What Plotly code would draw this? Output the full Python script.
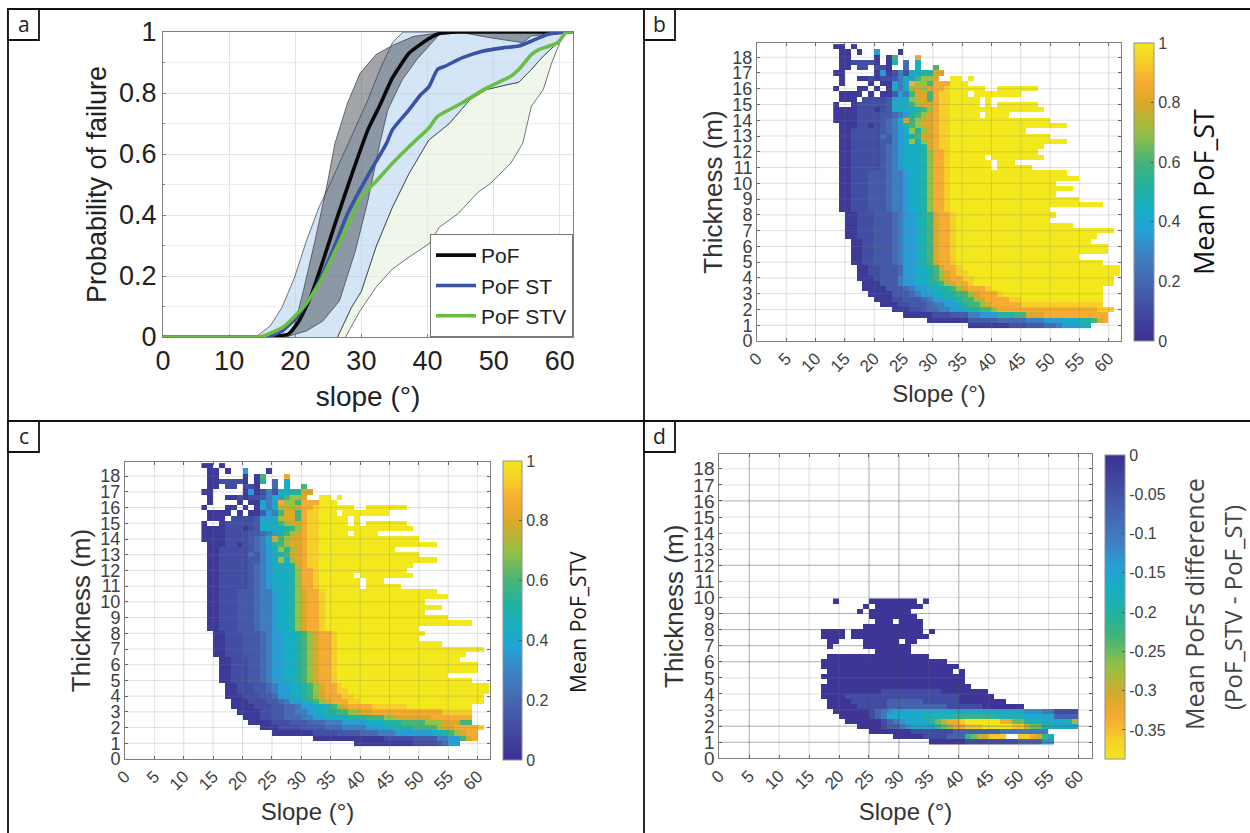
import re
import plotly.graph_objects as go

W, H = 1250, 833

# ---------- panel a: curves ----------
POF_X = [0, 15, 17.4, 19, 20.5, 22.3, 24.2, 26, 28.5, 31, 32.8, 34.7, 37.2, 39.6, 41.8, 44.6, 50, 62]
POF_Y = [0, 0, 0.003, 0.01, 0.05, 0.13, 0.25, 0.37, 0.53, 0.68, 0.76, 0.85, 0.93, 0.97, 0.995, 1, 1, 1]
ST_X = [0, 15, 16, 18, 20, 22, 24, 26, 27.9, 31, 33.8, 34.7, 37.2, 39, 40.2, 41.5, 42.7, 45.2, 48.3, 51.4, 53.8, 55.7, 58.1, 60, 62]
ST_Y = [0, 0, 0.002, 0.02, 0.06, 0.12, 0.2, 0.3, 0.404, 0.53, 0.635, 0.68, 0.745, 0.795, 0.82, 0.877, 0.888, 0.915, 0.937, 0.948, 0.954, 0.97, 0.992, 0.998, 1]
STV_X = [0, 14, 15, 16, 18, 20, 22, 24, 26, 28, 30, 32.2, 34.7, 37.2, 40.2, 41.5, 45.2, 48.9, 52.6, 53.8, 55.7, 56.9, 59.7, 60.9, 62]
STV_Y = [0, 0, 0.002, 0.01, 0.03, 0.07, 0.12, 0.19, 0.28, 0.37, 0.46, 0.51, 0.57, 0.624, 0.685, 0.723, 0.767, 0.816, 0.855, 0.877, 0.926, 0.943, 0.965, 0.998, 1]

POF_UP_X = [18.6, 19.9, 21.1, 23, 24.8, 26, 27.9, 29.8, 32.2, 34.7, 37.8, 40.9, 44, 62]
POF_UP_Y = [0, 0.04, 0.14, 0.317, 0.498, 0.635, 0.767, 0.865, 0.926, 0.956, 0.985, 0.995, 1, 1]
POF_LO_X = [18.6, 21.7, 24.2, 26.7, 29.1, 31, 32.8, 34, 36.2, 38.4, 40.2, 41.8, 45.2, 49.5, 54.4, 55.7, 62]
POF_LO_Y = [0, 0.02, 0.053, 0.119, 0.283, 0.448, 0.635, 0.745, 0.844, 0.91, 0.954, 0.992, 0.998, 0.981, 0.965, 0.987, 1]
ST_UP_X = [14, 16.2, 18, 19.9, 21.7, 23.6, 24.8, 26.7, 28.5, 31, 32.8, 34.7, 36.3, 62]
ST_UP_Y = [0, 0.036, 0.097, 0.196, 0.316, 0.426, 0.48, 0.57, 0.658, 0.778, 0.877, 0.965, 1, 1]
ST_LO_X = [26.4, 28.5, 30, 32.2, 34.7, 37.2, 40.2, 41.5, 43.3, 46.4, 48.9, 52, 53.8, 55.7, 57.5, 59.7, 61, 62]
ST_LO_Y = [0, 0.097, 0.15, 0.295, 0.426, 0.536, 0.646, 0.668, 0.7, 0.778, 0.811, 0.827, 0.835, 0.877, 0.921, 0.965, 0.998, 1]
STV_LO_X = [27.6, 29.8, 32.2, 34.7, 37.2, 40.2, 41.8, 44.6, 47.7, 49.5, 52.6, 54.4, 55.7, 57.5, 58.8, 60, 61, 62]
STV_LO_Y = [0, 0.086, 0.163, 0.223, 0.262, 0.305, 0.36, 0.404, 0.476, 0.503, 0.57, 0.635, 0.756, 0.811, 0.9, 0.965, 1, 1]

# ---------- heat maps: cells per thickness row, top row first ----------
# run-length text: count + level letter, "." = empty cell; the first column is the 13-14 degree bin
LEVELS = dict(a=.04, b=.11, c=.15, d=.21, e=.28, f=.36, g=.44, h=.52, i=.6, j=.7, k=.8, l=.87, m=.94, n=1.0)
DIFF_LEVELS = dict(a=-.01, b=-.04, c=-.07, d=-.1, e=-.13, f=-.16, g=-.19, h=-.22, i=-.25, j=-.28, k=-.3, l=-.33, m=-.36, n=-.385)

ST_ROWS = [
    "2a.a", ".2a.a2.f3.a", ".2a4.a.ai3.l", ".2a4ba.ah.d.g", ".2a.2b.2ba2.d.g2.i",
    "2a5.afabeb2g2h2k", ".a2.2ababbcegfijjk2.2n.n", ".a4.a.2afefljji3l3n",
    "a3.2a.a.agegjkjkllm6n2.7n", ".4a.a.2acfeikkilmm3n.8n", ".3a.4bcffgjkkilmm5n.n",
    "a2.a5bc3gijkklmm5n.n.7n", "4a3babc4ghijlmm16n", "4a4b2cdefhijklmm5n.4n",
    "4a4bcdegkijkklmm17n", ".3a2babcdefhijkklmm20n", ".2a5bcdefgjhjklmm13n",
    ".2a5bdcefghikklmm17n", ".2a5bccefgjgjklmm20n", ".2a5bcdefggghklmm16n",
    ".2a5bcdefggghjllm15n", ".2a5bcdefggghjllm6n.9n", ".2a5bcdefggghjllm7n.3n",
    ".2a5bcdefggghjllm7n.6n",
    ".2a3b3cdeefgghjllm20n", ".2a3b3cdeefgghjllm22n", ".2a3b3cdeefgghjllm18n",
    ".2a3b3cdeefgghjllm21n", ".2a3b3cdeefgghjllm18n", ".2a3b3cdeefgghjllm22n",
    ".2a3b3cdeefgghjllm26n", ".2a3b3cdeefgghjllm17n",
    "2.2a3b3cde2fghik2lm17n", "2.2a3b3cde2fghik2lm16n", "2.2a3b3cde2fghik2lm20n",
    "2.2a3b3cde2fghik2lm27n", "2.2a3b3cde2fghik2lm24n",
    "3.2a2b3cde2fghik2lm23n", "3.2a2b3cde2fghik2lm26n", "3.2a2b3cde2fghik2lm26n",
    "3.2a2b3cde2fghik2lm21n", "3.2a2b3cde2fghik2lm25n",
    "4.2a2b3cd2f2ghik2lm27n", "4.2a2b3cd2f2ghijkl2m26n", "4.3ab3ce2f2ghijk2l2m24n",
    "5.3a3ce2f2g2hijk2lm24n", "5.4a3cde2f2g2hijk3lm19n", "6.4a3cde2f2g2h2ijk3lm17n",
    "7.3a2b3cde2f2gh2ijk4l2m14n", "8.3a2b3cd2e2fgh2ijk5l14m", "10.3a2bc2d2e2fg2h2ij17l3m",
    "12.5a3b3c2e3f3h2i3k11l", "16.7a5c5d3e3f3g2hikl", "23.7a3b3c2de3f2g",
]

STV_ROWS = ST_ROWS[:24] + [
    ".2a3b3cdeefgghjkllm19n", ".2a3b3cdeefgghjkllm21n", ".2a3b3cdeefgghjkllm17n",
    ".2a3b3cdeefgghjkllm20n", ".2a3b3cdeefgghjkllm17n", ".2a3b3cdeefgghjkllm21n",
    ".2a3b3cdeefgghjkllm25n", ".2a3b3cdeefgghjkllm16n",
    "2.2a3b3cde2f2ghijk2lm15n", "2.2a3b3cde2f2ghijk2lm14n", "2.2a3b3cde2f2ghijk2lm18n",
    "2.2a3b3cde2f2ghijk2lm25n", "2.2a3b3cde2f2ghijk2lm22n",
    "3.2a3b2cde2f2ghijk2lm21n", "3.2a3b2cde2f2ghijk2lm24n", "3.2a3b2cde2f2ghijk2lm24n",
    "3.2a3b2cde2f2ghijk2lm19n", "3.2a3b2cde2f2ghijk2lm23n",
    "4.2a3b2cde2f2ghijk2lm25n", "4.2a3b2cde2f2ghijk2l2m24n", "4.3a3b2cd2f2ghijk3l2m22n",
    "5.3a3b2cde2fghijk3l2m21n", "5.4a3b2c2de2f2ghijk4l6m11n", "6.4a2b2c2d2ef2g2h2i2j2k12l5m",
    "7.3a2b2c3d2e2f4g3h3i2j6k7l", "8.4a3b3c3d3e4f3g3h4i3j3k2i", "10.3a4b4c3d4e3f2g3h4ij2k4lm",
    "12.7a4b4c3d3e6f2ghijk2l", "19.12a5b4c2e2fikl", "26.10a4bcd2f",
]

DIFF_ROWS = [
    "6.a5.8a.a", "11.a.8a", "10.a.7a", "12.8a", "13.3a.4a", "11.10a", "4.4a.12a.a", "4.4a.13a",
    "5.2a4.6a.2a", "5.a5.8a", "13.6a", "5.17a", "4.21a", "4.23a", "5.21a.a", "4.24a", "5.23a", "4.25a",
    "4.10a10b8a", "4.4a19b6a", "5.4a6b6c6b8a", "5.5a5b10c6b7a", "6.6abcde22f3e2d4b",
    "7.5abcd6f5g7h5g5f4c", "8.6abcde4fhik2lm6n2l2i3g4fgj", "10.4ab2cde4fhij2l3m5n2mk2i2g4f",
    "12.7a7b8c8d", "16.5a4b3chi2k3m2.2mlkhf", "22.6a9b4c2e",
]

SLOPE_TICKS = list(range(0, 61, 5))
THICK_TICKS = list(range(0, 19))
A_X_TICKS = [0, 10, 20, 30, 40, 50, 60]
A_Y_TICKS = [0, 0.2, 0.4, 0.6, 0.8, 1]
A_Y_LABELS = ["0", "0.2", "0.4", "0.6", "0.8", "1"]
CB_TICKS = [0, 0.2, 0.4, 0.6, 0.8, 1]
CB_LABELS = ["0", "0.2", "0.4", "0.6", "0.8", "1"]
DIFF_TICKS = [0, -0.05, -0.1, -0.15, -0.2, -0.25, -0.3, -0.35]
DIFF_LABELS = ["0", "-0.05", "-0.1", "-0.15", "-0.2", "-0.25", "-0.3", "-0.35"]
D_STRONG_SLOPES = [5, 25, 30, 40, 60]
D_STRONG_THICK = [1, 2, 6, 7, 8, 9, 12, 16]

PARULA = [
    [0, "#3b2f94"], [.1, "#424ba2"], [.2, "#4667b0"], [.3, "#3c84c4"], [.37, "#25a0d8"],
    [.44, "#17aec4"], [.52, "#22b2a0"], [.6, "#45b478"], [.7, "#97c044"], [.8, "#dca829"],
    [.87, "#f6ac32"], [.94, "#f6d028"], [1, "#f2e81c"],
]

FONT = "Liberation Sans"
TITLE_FONT = "Open Sans"
TICK_COLOR = "#404040"


def px_dom_x(a, b):
    return [a / W, b / W]


def px_dom_y(top, bottom):
    return [1 - bottom / H, 1 - top / H]


def decode(rows, levels):
    grid = []
    for row in rows:
        cells = []
        for count, ch in re.findall(r"(\d*)([a-n.])", row):
            cells += [None if ch == "." else levels[ch]] * int(count or 1)
        grid.append((cells + [None] * 49)[:49])
    return grid[::-1]


def heat(rows, levels, row_h, xa, ya, zmin, zmax, reverse, cb):
    grid = decode(rows, levels)
    return go.Heatmap(
        z=grid,
        x=[13.5 + i for i in range(49)],
        y=[0.83 + row_h * (i + 0.5) for i in range(len(grid))],
        xaxis=xa, yaxis=ya, zmin=zmin, zmax=zmax, colorscale=PARULA, reversescale=reverse,
        hoverongaps=False, colorbar=cb,
    )


def colorbar(x0, x1, top, bottom, vals, labels):
    return dict(
        x=x0 / W, xanchor="left", xpad=0, ypad=0, thickness=x1 - x0, thicknessmode="pixels",
        y=1 - top / H, yanchor="top", len=(bottom - top) / H, lenmode="fraction",
        tickvals=vals, ticktext=labels, ticks="inside", ticklen=3, tickcolor="#555555",
        tickfont=dict(family=FONT, size=16, color=TICK_COLOR),
        outlinecolor="#909090", outlinewidth=1,
    )


fig = go.Figure()

# panel a bands
for up_x, up_y, lo_x, lo_y, fill in [
    (ST_LO_X, ST_LO_Y, STV_LO_X, STV_LO_Y, "rgba(226,240,217,0.55)"),
    (ST_UP_X, ST_UP_Y, ST_LO_X, ST_LO_Y, "rgba(176,208,238,0.55)"),
    (POF_UP_X, POF_UP_Y, POF_LO_X, POF_LO_Y, "rgba(55,60,65,0.46)"),
]:
    fig.add_trace(go.Scatter(
        x=up_x + lo_x[::-1], y=up_y + lo_y[::-1], mode="lines", fill="toself", fillcolor=fill,
        line=dict(color="#3a3a4a", width=0.7), showlegend=False, hoverinfo="skip",
    ))
for xs, ys, name, col in [
    (POF_X, POF_Y, "PoF", "#0a0a0a"),
    (ST_X, ST_Y, "PoF ST", "#3a53a4"),
    (STV_X, STV_Y, "PoF STV", "#6abd45"),
]:
    fig.add_trace(go.Scatter(x=xs, y=ys, mode="lines", name=name,
                             line=dict(color=col, width=3.6, shape="spline", smoothing=0.5)))

fig.add_trace(heat(ST_ROWS, LEVELS, 1 / 3, "x2", "y2", 0, 1, False,
                   colorbar(1134, 1154, 43, 341, CB_TICKS, CB_LABELS)))
fig.add_trace(heat(STV_ROWS, LEVELS, 1 / 3, "x3", "y3", 0, 1, False,
                   colorbar(503, 522, 461, 760, CB_TICKS, CB_LABELS)))
fig.add_trace(heat(DIFF_ROWS, DIFF_LEVELS, 0.314, "x4", "y4", -0.387, 0, True,
                   colorbar(1105, 1125, 455, 759, DIFF_TICKS, DIFF_LABELS)))

layout = dict(
    width=W, height=H, margin=dict(l=0, r=0, t=0, b=0), autosize=False,
    paper_bgcolor="white", plot_bgcolor="white", font=dict(family=FONT, color="#222222"),
    legend=dict(
        x=573 / W, xanchor="right", y=1 - 337 / H, yanchor="bottom", bgcolor="white",
        bordercolor="#777777", borderwidth=1, font=dict(size=21, color="#222222"),
        itemwidth=40, tracegroupgap=0,
    ),
)

# panel a axes
layout["xaxis"] = dict(
    domain=px_dom_x(163, 573), range=[0, 62], tickvals=A_X_TICKS, showgrid=True, gridcolor="#e4e4e4",
    zeroline=False, showline=True, linecolor="#808080", mirror=True, ticks="inside", ticklen=3,
    tickcolor="#808080", tickfont=dict(size=27, color="#222222"),
    title=dict(text="slope (°)", font=dict(size=28), standoff=10), automargin=False,
)
layout["yaxis"] = dict(
    domain=px_dom_y(32, 337), range=[0, 1], tickvals=A_Y_TICKS, ticktext=A_Y_LABELS, showgrid=True,
    gridcolor="#e4e4e4", zeroline=False, showline=True, linecolor="#808080", mirror=True,
    ticks="inside", ticklen=3, tickcolor="#808080", tickfont=dict(size=27, color="#222222"),
    minor=dict(dtick=0.1, showgrid=True, gridcolor="#ededed", ticks="inside", ticklen=2),
    title=dict(text="Probability of failure", font=dict(size=27), standoff=4), automargin=False,
)

shapes = []
PANELS = [
    ("2", (757, 1121), (43, 341), 62.1),
    ("3", (125, 490), (462, 759), 62.1),
    ("4", (719.3, 1091.7), (454.3, 758.3), 62.2),
]
for sfx, (x0, x1), (y0, y1), xmax in PANELS:
    ticksize = 18 if sfx != "4" else 19
    layout["xaxis" + sfx] = dict(
        domain=px_dom_x(x0, x1), range=[0, xmax], anchor="y" + sfx, tickvals=SLOPE_TICKS,
        tickangle=-45, showgrid=False, zeroline=False, showline=True, linecolor="#808080",
        mirror="ticks", ticks="inside", ticklen=3, tickcolor="#606060",
        tickfont=dict(size=17, color=TICK_COLOR),
        title=dict(text="Slope (°)", font=dict(size=24, color="#333333"), standoff=10), automargin=False,
    )
    layout["yaxis" + sfx] = dict(
        domain=px_dom_y(y0, y1), range=[0, 18.9], anchor="x" + sfx, tickvals=THICK_TICKS,
        showgrid=False, zeroline=False, showline=True, linecolor="#808080", mirror="ticks",
        ticks="inside", ticklen=3, tickcolor="#606060", tickfont=dict(size=ticksize, color=TICK_COLOR),
        title=dict(text="Thickness (m)", font=dict(size=26, color="#333333"), standoff=2), automargin=False,
    )
    light = "rgba(120,120,120,0.24)"
    strong = "rgba(70,70,70,0.45)"
    for t in SLOPE_TICKS[1:]:
        col = strong if sfx == "4" and t in D_STRONG_SLOPES else light
        shapes.append(dict(type="line", xref="x" + sfx, yref="y" + sfx, x0=t, x1=t, y0=0, y1=18.9,
                           line=dict(color=col, width=1), layer="above"))
    for t in THICK_TICKS[1:]:
        col = strong if sfx == "4" and t in D_STRONG_THICK else light
        shapes.append(dict(type="line", xref="x" + sfx, yref="y" + sfx, x0=0, x1=xmax, y0=t, y1=t,
                           line=dict(color=col, width=1), layer="above"))

# frame lines and letter boxes, given in page pixels
FRAME = [(8, 9, 1250, 9), (8, 9, 8, 833), (644, 9, 644, 833), (8, 421, 1250, 421)]
for xa, ya, xb, yb in FRAME:
    shapes.append(dict(type="line", xref="paper", yref="paper", x0=xa / W, x1=xb / W, y0=1 - ya / H, y1=1 - yb / H,
                       line=dict(color="#111111", width=1.8), layer="above"))
BOXES = [("a", 8, 9), ("b", 644, 9), ("c", 8, 421), ("d", 644, 421)]
annotations = []
for letter, bx, by in BOXES:
    shapes.append(dict(type="rect", xref="paper", yref="paper", x0=bx / W, x1=(bx + 31) / W, y0=1 - by / H, y1=1 - (by + 31) / H,
                       line=dict(color="#111111", width=1.8), fillcolor="white", layer="above"))
    annotations.append(dict(text=letter, xref="paper", yref="paper", x=(bx + 15.5) / W, y=1 - (by + 15) / H,
                            xanchor="center", yanchor="middle",
                            showarrow=False, font=dict(family=TITLE_FONT, size=21, color="#222222")))

CB_TITLES = [
    ("Mean PoF_ST", 1204, 192, 27, "#111111"),
    ("Mean PoF_STV", 578, 622, 21, "#1a1a1a"),
    ("Mean PoFs difference", 1194, 604, 25, "#444444"),
    ("(PoF_STV - PoF_ST)", 1232, 608, 24, "#444444"),
]
for text, cx, cy, size, col in CB_TITLES:
    annotations.append(dict(text=text, xref="paper", yref="paper", x=cx / W, y=1 - cy / H, textangle=-90,
                            xanchor="center", yanchor="middle",
                            showarrow=False, font=dict(family=TITLE_FONT, size=size, color=col)))

layout["shapes"] = shapes
layout["annotations"] = annotations
fig.update_layout(**layout)

fig.write_html("out.html", config=dict(displayModeBar=False),
               post_script="document.body.style.margin='0';")
